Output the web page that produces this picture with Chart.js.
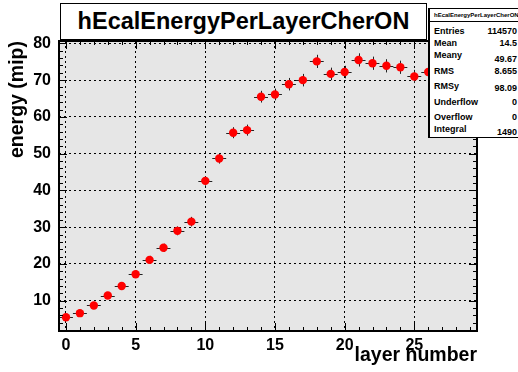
<!DOCTYPE html>
<html>
<head>
<meta charset="utf-8">
<script src="https://cdn.jsdelivr.net/npm/chart.js@4/dist/chart.umd.min.js"></script>
<style>
html, body { margin: 0; padding: 0; background: #fff; overflow: hidden; }
#wrap { position: relative; width: 518px; height: 372px; font-family: "Liberation Sans", Arial, sans-serif; font-weight: bold; color: #000; }
#wrap canvas { position: absolute; left: 0; top: 0; }
#title { position: absolute; left: 60px; top: 3px; width: 367px; height: 37px; border: 1px solid #000; background: #fff; box-sizing: border-box; text-align: center; font-size: 23.5px; line-height: 35px; }
#stats { position: absolute; left: 428px; top: 8px; width: 92px; height: 130px; border: 1px solid #000; border-left-width: 2px; background: #fff; box-sizing: border-box; }
#stats .hd { position: absolute; left: 0; right: 0; top: 1px; height: 11px; border-bottom: 1px solid #000; font-size: 6px; line-height: 10px; padding-left: 4px; }
#stats .k, #stats .v { position: absolute; font-size: 9px; line-height: 10px; white-space: nowrap; }
#stats .k { left: 4px; }
#stats .v { right: 2px; text-align: right; }
</style>
</head>
<body>
<div id="wrap">
  <canvas id="c" width="518" height="372"></canvas>
  <div id="title">hEcalEnergyPerLayerCherON</div>
  <div id="stats"><div class="hd">hEcalEnergyPerLayerCherON</div></div>
</div>
<script>
// Mean energy deposited per calorimeter layer
const layers = [0, 1, 2, 3, 4, 5, 6, 7, 8, 9, 10, 11, 12, 13, 14, 15, 16, 17, 18, 19, 20, 21, 22, 23, 24, 25, 26];
const energy = [5.5, 6.6, 8.7, 11.4, 14.0, 17.2, 21.1, 24.4, 29.0, 31.5, 42.6, 48.7, 55.7, 56.4, 65.5, 66.1, 68.9, 70.0, 75.1, 71.7, 72.2, 75.5, 74.6, 73.9, 73.5, 71.0, 72.2];
const energyErr = [0.6, 0.7, 0.8, 0.9, 1.0, 1.0, 1.1, 1.1, 1.2, 1.3, 1.3, 1.4, 1.5, 1.5, 1.6, 1.6, 1.7, 1.7, 1.8, 1.7, 1.7, 1.8, 1.8, 1.8, 1.8, 1.8, 1.8];
const binHalfWidth = 0.5;

// Axis tick values
const xTicks = [0, 5, 10, 15, 20, 25];
const yTicks = [10, 20, 30, 40, 50, 60, 70, 80];

// Statistics box entries
const statNames = ["Entries", "Mean", "Meany", "RMS", "RMSy", "Underflow", "Overflow", "Integral"];
const statValues = ["114570", "14.5", "49.67", "8.655", "98.09", "0", "0", "1490"];

const statKeyTop = [17, 29, 41, 57, 72, 88, 103, 115];
const statValTop = [17, 29, 45, 57, 74, 88, 103, 118];
const statsBox = document.getElementById('stats');
statNames.forEach((name, i) => {
  const k = document.createElement('div');
  k.className = 'k'; k.style.top = statKeyTop[i] + 'px'; k.textContent = name;
  const v = document.createElement('div');
  v.className = 'v'; v.style.top = statValTop[i] + 'px'; v.textContent = statValues[i];
  statsBox.appendChild(k); statsBox.appendChild(v);
});

const FONT = '"Liberation Sans", Arial, sans-serif';

// Grey frame fill, error bars, and ROOT-style inward ticks
const rootFrame = {
  id: 'rootFrame',
  beforeDraw(chart) {
    const { ctx, chartArea: a } = chart;
    ctx.save();
    ctx.fillStyle = '#e6e6e6';
    ctx.fillRect(a.left, a.top, a.right - a.left, a.bottom - a.top);
    ctx.restore();
  },
  beforeDatasetsDraw(chart) {
    const { ctx } = chart;
    const xs = chart.scales.x, ys = chart.scales.y;
    ctx.save();
    ctx.strokeStyle = '#222';
    ctx.lineWidth = 1;
    layers.forEach((l, i) => {
      const px = Math.round(xs.getPixelForValue(l)) + 0.5;
      const py = Math.round(ys.getPixelForValue(energy[i])) + 0.5;
      const x0 = xs.getPixelForValue(l - binHalfWidth), x1 = xs.getPixelForValue(l + binHalfWidth);
      const y0 = ys.getPixelForValue(energy[i] - energyErr[i]), y1 = ys.getPixelForValue(energy[i] + energyErr[i]);
      ctx.beginPath();
      ctx.moveTo(x0, py); ctx.lineTo(x1, py);
      ctx.moveTo(px, y0); ctx.lineTo(px, y1);
      ctx.stroke();
    });
    ctx.restore();
  },
  afterDraw(chart) {
    const { ctx, chartArea: a } = chart;
    const xs = chart.scales.x, ys = chart.scales.y;
    ctx.save();
    ctx.strokeStyle = '#000';
    ctx.lineWidth = 1;
    ctx.beginPath();
    // x ticks, bottom and top
    for (let v = 0; v <= 29; v++) {
      const len = (v % 5 === 0) ? 8 : 4;
      const px = Math.round(xs.getPixelForValue(v)) + 0.5;
      ctx.moveTo(px, a.bottom); ctx.lineTo(px, a.bottom - len);
      ctx.moveTo(px, a.top); ctx.lineTo(px, a.top + len);
    }
    // y ticks, left and right
    for (let v = 2; v <= 80; v += 2) {
      const len = (v % 10 === 0) ? 8 : 4;
      const py = Math.round(ys.getPixelForValue(v)) + 0.5;
      ctx.moveTo(a.left, py); ctx.lineTo(a.left + len, py);
      ctx.moveTo(a.right, py); ctx.lineTo(a.right - len, py);
    }
    ctx.stroke();
    ctx.lineWidth = 2;
    ctx.strokeRect(a.left, a.top, a.right - a.left, a.bottom - a.top);
    ctx.restore();
  }
};

new Chart(document.getElementById('c'), {
  type: 'scatter',
  data: {
    datasets: [{
      data: layers.map((l, i) => ({ x: l, y: energy[i] })),
      pointRadius: 4.2,
      pointHoverRadius: 4.2,
      pointBackgroundColor: '#ff0000',
      pointBorderWidth: 0,
      showLine: false
    }]
  },
  options: {
    responsive: false,
    animation: false,
    events: [],
    layout: { padding: { top: 41, right: 41, left: 0, bottom: 0 } },
    plugins: { legend: { display: false }, tooltip: { enabled: false } },
    scales: {
      x: {
        type: 'linear', min: -0.5, max: 29.5,
        afterBuildTicks: s => { s.ticks = xTicks.map(v => ({ value: v })); },
        afterFit: s => { s.height = 41; },
        grid: { color: '#000', lineWidth: 1, drawTicks: false },
        border: { display: false, dash: [2, 3] },
        ticks: { color: '#000', padding: 5, maxRotation: 0, autoSkip: false, font: { family: FONT, size: 16, weight: 'bold' } },
        title: { display: true, text: 'layer number', align: 'end', color: '#000', padding: { top: 0, bottom: 5 }, font: { family: FONT, size: 19.5, weight: 'bold' } }
      },
      y: {
        min: 1.75, max: 80.65,
        afterBuildTicks: s => { s.ticks = yTicks.map(v => ({ value: v })); },
        afterFit: s => { s.width = 59; },
        grid: { color: '#000', lineWidth: 1, drawTicks: false },
        border: { display: false, dash: [2, 3] },
        ticks: { color: '#000', padding: 8, autoSkip: false, font: { family: FONT, size: 16, weight: 'bold' } },
        title: { display: true, text: 'energy (mip)', align: 'end', color: '#000', padding: { top: 6, bottom: 0 }, font: { family: FONT, size: 19.5, weight: 'bold' } }
      }
    }
  },
  plugins: [rootFrame]
});
</script>
</body>
</html>
